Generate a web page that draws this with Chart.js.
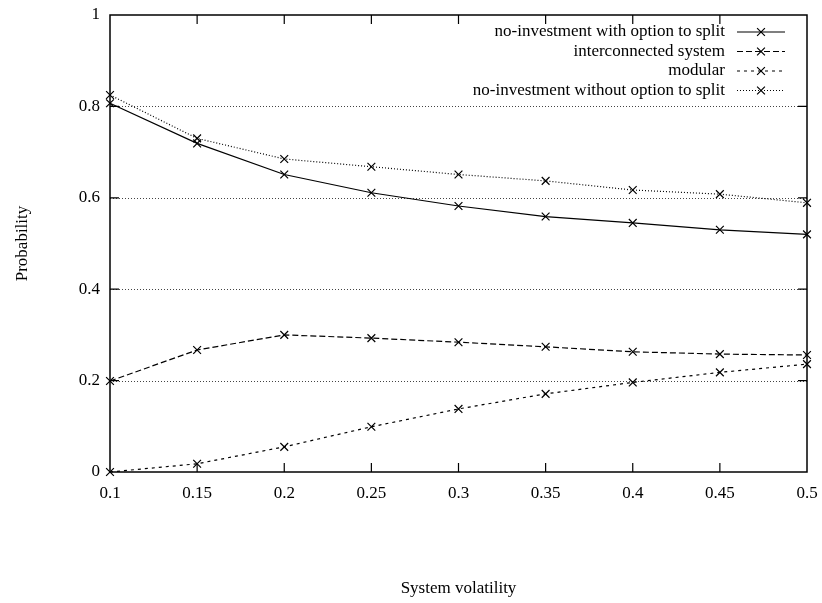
<!DOCTYPE html>
<html>
<head>
<meta charset="utf-8">
<script src="https://cdn.jsdelivr.net/npm/chart.js@4"></script>
<style>
  body { margin: 0; background: #fff; }
  canvas { display: block; }
</style>
</head>
<body>
<canvas id="chart" width="822" height="603"></canvas>
<script>
// Data
const volatility = ["0.1", "0.15", "0.2", "0.25", "0.3", "0.35", "0.4", "0.45", "0.5"];
const noInvestWithSplit = [0.807, 0.719, 0.651, 0.611, 0.582, 0.559, 0.545, 0.530, 0.520];
const interconnected = [0.199, 0.267, 0.300, 0.293, 0.284, 0.274, 0.263, 0.258, 0.256];
const modular = [0.0, 0.018, 0.055, 0.099, 0.138, 0.171, 0.196, 0.218, 0.236];
const noInvestWithoutSplit = [0.825, 0.730, 0.685, 0.668, 0.651, 0.637, 0.617, 0.608, 0.589];
const yTicks = [0, 0.2, 0.4, 0.6, 0.8, 1];

const FONT = "Liberation Serif";
const FONT_SIZE = 17;

function series(label, data, dash) {
  return {
    label: label,
    data: data,
    borderColor: "#000",
    borderWidth: 1.2,
    borderDash: dash,
    pointStyle: "crossRot",
    pointRadius: 5.5,
    pointBorderColor: "#000",
    pointBorderWidth: 1.2,
    pointBackgroundColor: "#000",
    fill: false,
    tension: 0,
    clip: false
  };
}

// Gnuplot-like frame: dotted y grid, box border, inward tics, right-aligned key
const gnuplotFrame = {
  id: "gnuplotFrame",
  beforeDatasetsDraw(chart) {
    const { ctx, chartArea: a, scales } = chart;
    ctx.save();
    ctx.strokeStyle = "#444";
    ctx.lineWidth = 1;
    ctx.setLineDash([1, 2]);
    yTicks.slice(1, -1).forEach((v) => {
      const y = Math.round(scales.y.getPixelForValue(v)) + 0.5;
      ctx.beginPath();
      ctx.moveTo(a.left, y);
      ctx.lineTo(a.right, y);
      ctx.stroke();
    });
    ctx.restore();
  },
  afterDraw(chart) {
    const { ctx, chartArea: a, scales } = chart;
    const tic = 9;
    ctx.save();
    ctx.strokeStyle = "#000";
    ctx.lineWidth = 1.5;
    ctx.setLineDash([]);
    ctx.strokeRect(a.left, a.top, a.right - a.left, a.bottom - a.top);

    // tics on all four sides
    ctx.lineWidth = 1.2;
    ctx.beginPath();
    yTicks.slice(1, -1).forEach((v) => {
      const y = scales.y.getPixelForValue(v);
      ctx.moveTo(a.left, y);
      ctx.lineTo(a.left + tic, y);
      ctx.moveTo(a.right, y);
      ctx.lineTo(a.right - tic, y);
    });
    volatility.forEach((c, i) => {
      if (i === 0 || i === volatility.length - 1) return;
      const x = scales.x.getPixelForValue(i);
      ctx.moveTo(x, a.bottom);
      ctx.lineTo(x, a.bottom - tic);
      ctx.moveTo(x, a.top);
      ctx.lineTo(x, a.top + tic);
    });
    ctx.stroke();

    // key
    ctx.font = FONT_SIZE + "px '" + FONT + "'";
    ctx.textAlign = "right";
    ctx.textBaseline = "middle";
    ctx.fillStyle = "#000";
    chart.data.datasets.forEach((ds, i) => {
      const y = a.top + 17 + i * 19.5;
      ctx.fillText(ds.label, a.right - 82, y);
      ctx.lineWidth = ds.borderWidth;
      ctx.setLineDash(ds.borderDash);
      ctx.beginPath();
      ctx.moveTo(a.right - 70, y);
      ctx.lineTo(a.right - 22, y);
      ctx.stroke();
      ctx.setLineDash([]);
      const cx = a.right - 46, r = 3.9;
      ctx.beginPath();
      ctx.moveTo(cx - r, y - r);
      ctx.lineTo(cx + r, y + r);
      ctx.moveTo(cx - r, y + r);
      ctx.lineTo(cx + r, y - r);
      ctx.stroke();
    });
    ctx.restore();
  }
};

const ctx = document.getElementById("chart").getContext("2d");
const probabilityChart = new Chart(ctx, {
  type: "line",
  data: {
    labels: volatility,
    datasets: [
      series("no-investment with option to split", noInvestWithSplit, []),
      series("interconnected system", interconnected, [6, 3]),
      series("modular", modular, [3, 4]),
      series("no-investment without option to split", noInvestWithoutSplit, [1, 2])
    ]
  },
  options: {
    responsive: false,
    animation: false,
    layout: { padding: { top: 15, right: 15, left: 0, bottom: 0 } },
    plugins: {
      legend: { display: false },
      tooltip: { enabled: false }
    },
    scales: {
      x: {
        type: "category",
        offset: false,
        grid: { display: false, drawTicks: false },
        border: { display: false },
        ticks: {
          color: "#000",
          padding: 11,
          maxRotation: 0,
          autoSkip: false,
          font: { family: FONT, size: FONT_SIZE }
        },
        title: {
          display: true,
          text: "System volatility",
          color: "#000",
          padding: { top: 0, bottom: 4 },
          font: { family: FONT, size: FONT_SIZE }
        },
        afterFit(scale) {
          scale.height = 131;
          scale.paddingLeft = 0;
          scale.paddingRight = 0;
        }
      },
      y: {
        min: 0,
        max: 1,
        grid: { display: false, drawTicks: false },
        border: { display: false },
        afterBuildTicks(scale) { scale.ticks = yTicks.map((v) => ({ value: v })); },
        ticks: {
          color: "#000",
          padding: 10,
          font: { family: FONT, size: FONT_SIZE },
          callback: (v) => String(+v.toFixed(1))
        },
        title: {
          display: true,
          text: "Probability",
          color: "#000",
          padding: { top: 12, bottom: 0 },
          font: { family: FONT, size: FONT_SIZE }
        },
        afterFit(scale) {
          scale.width = 110;
          scale.paddingTop = 0;
          scale.paddingBottom = 0;
        }
      }
    }
  },
  plugins: [gnuplotFrame]
});
</script>
</body>
</html>
